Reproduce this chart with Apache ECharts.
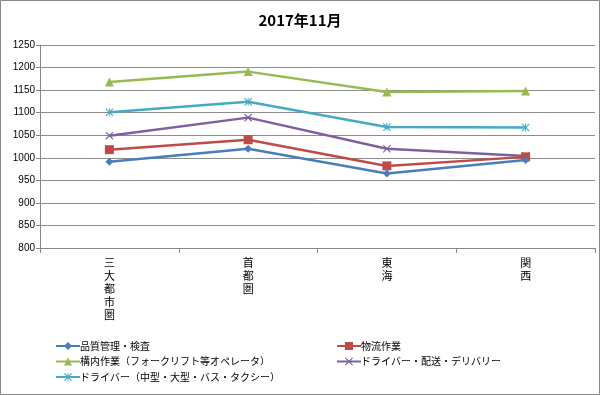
<!DOCTYPE html>
<html><head><meta charset="utf-8">
<script src="https://cdn.jsdelivr.net/npm/echarts@6/dist/echarts.min.js"></script>
<style>html,body{margin:0;padding:0;background:#fff}#c{width:600px;height:395px}</style>
</head><body><div id="c"></div>
<script>
const categories = ['三大都市圏', '首都圏', '東海', '関西'];
const seriesNames = ['品質管理・検査', '物流作業', '構内作業（フォークリフト等オペレータ）', 'ドライバー・配送・デリバリー', 'ドライバー（中型・大型・バス・タクシー）'];
const qualityCheck = [991, 1020, 965, 995];
const logistics = [1018, 1040, 982, 1002];
const onSite = [1168, 1191, 1146, 1148];
const driverDelivery = [1049, 1089, 1020, 1004];
const driverLarge = [1101, 1124, 1068, 1067];
const yMin = 800, yMax = 1250, yStep = 50;

const X = 'path://M1,0 L5,4 L9,0 L10,1 L6,5 L10,9 L9,10 L5,6 L1,10 L0,9 L4,5 L0,1 Z';
const STAR = 'path://M1,0 L5,4 L9,0 L10,1 L6,5 L10,9 L9,10 L5,6 L1,10 L0,9 L4,5 L0,1 Z M4.4,0 L5.6,0 L5.6,10 L4.4,10 Z';
const colors = ['#4A7EBB', '#BE4B48', '#98B954', '#7D60A0', '#46AAC5'];
const symbols = ['diamond', 'rect', 'triangle', X, STAR];
const sizes = [8, 9, 9, 8, 8];
const datas = [qualityCheck, logistics, onSite, driverDelivery, driverLarge];

const chart = echarts.init(document.getElementById('c'));
const font = '"Noto Sans CJK JP", "Liberation Sans", sans-serif';
const legendText = { fontSize: 10, color: '#000', padding: [0,0,0,-5] };
chart.setOption({
  animation: false,
  textStyle: { fontFamily: font },
  title: { text: '2017年11月', left: 'center', top: 8,
    textStyle: { fontSize: 15, fontWeight: 'bold', color: '#000', fontFamily: font } },
  grid: { left: 40, right: 5, top: 45, bottom: 147 },
  legend: [
    { data: [seriesNames[0], seriesNames[2], seriesNames[4]], orient: 'vertical', left: 50, top: 336,
      itemWidth: 24, itemHeight: 10, itemGap: 5.5, textStyle: legendText },
    { data: [seriesNames[1], seriesNames[3]], orient: 'vertical', left: 331, top: 336,
      itemWidth: 24, itemHeight: 10, itemGap: 5.5, textStyle: legendText }
  ],
  xAxis: {
    type: 'category', data: categories, boundaryGap: true,
    axisLine: { lineStyle: { color: '#868686' } },
    axisTick: { show: true, length: 5, lineStyle: { color: '#868686' } },
    axisLabel: { fontSize: 11, color: '#000', lineHeight: 13, margin: 8,
      formatter: v => v.split('').join('\n') }
  },
  yAxis: {
    type: 'value', min: yMin, max: yMax, interval: yStep,
    axisLine: { show: true, lineStyle: { color: '#868686' } },
    axisTick: { show: true, length: 4, lineStyle: { color: '#868686' } },
    splitLine: { lineStyle: { color: '#8c8c8c' } },
    axisLabel: { fontSize: 10, color: '#000', margin: 5, fontFamily: '"Liberation Sans", sans-serif',
      formatter: v => String(v) }
  },
  graphic: [{ type: 'rect', shape: { x: 0.5, y: 0.5, width: 599, height: 394 },
    style: { fill: 'none', stroke: '#888', lineWidth: 1 }, silent: true }],
  series: datas.map((d, i) => ({
    name: seriesNames[i], type: 'line', data: d,
    symbol: symbols[i], symbolSize: sizes[i], showAllSymbol: true,
    lineStyle: { color: colors[i], width: 2.5 },
    itemStyle: { color: colors[i] },
    z: 10 - i
  }))
});
</script></body></html>
